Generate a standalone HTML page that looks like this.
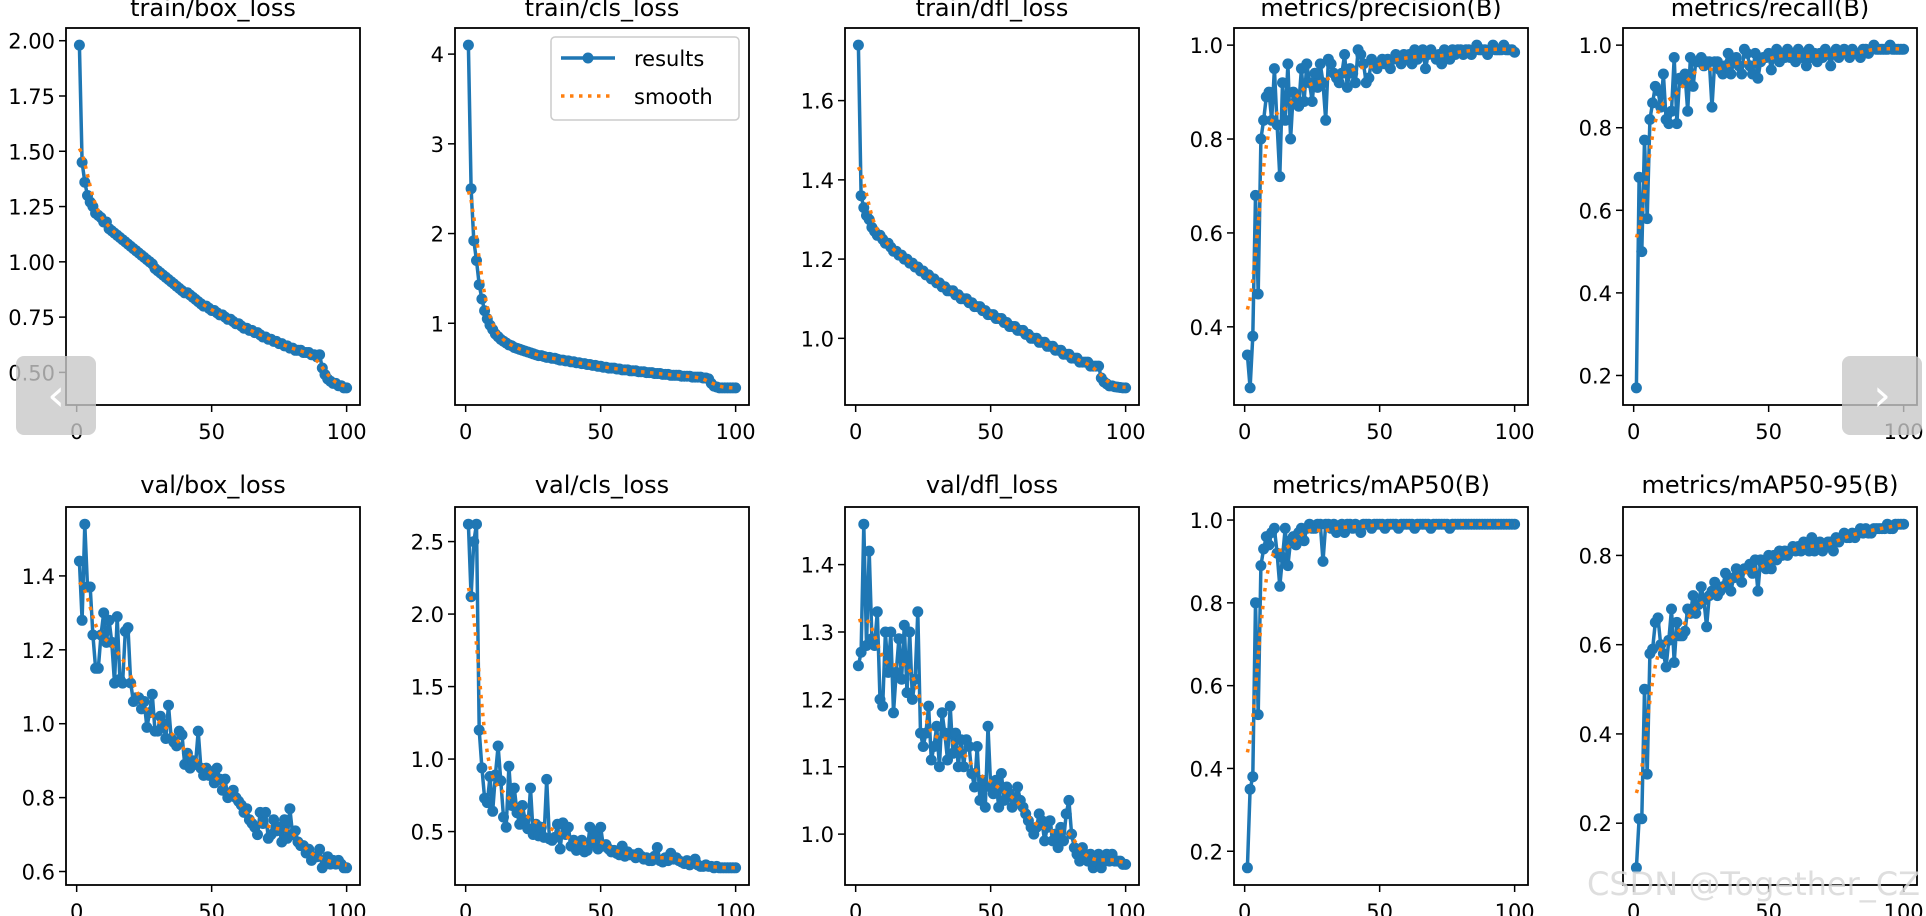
<!DOCTYPE html>
<html><head><meta charset="utf-8"><style>
html,body{margin:0;padding:0;background:#fff;}
svg{display:block;font-family:"DejaVu Sans","Liberation Sans",sans-serif;}
</style></head><body>
<svg id="fig" width="1926" height="916" viewBox="0 0 1926 916" xmlns="http://www.w3.org/2000/svg"></svg>
<script>
const epochs = Array.from({length:100},(_,i)=>i+1);
const titles = ["train/box_loss","train/cls_loss","train/dfl_loss","metrics/precision(B)","metrics/recall(B)","val/box_loss","val/cls_loss","val/dfl_loss","metrics/mAP50(B)","metrics/mAP50-95(B)"];
const trainBox = [1.98,1.45,1.36,1.30,1.27,1.25,1.22,1.21,1.20,1.18,1.18,1.15,1.14,1.13,1.12,1.11,1.10,1.09,1.08,1.07,1.06,1.05,1.04,1.03,1.02,1.01,1.00,0.99,0.97,0.96,0.95,0.94,0.93,0.92,0.91,0.90,0.89,0.88,0.87,0.86,0.86,0.85,0.84,0.83,0.82,0.81,0.80,0.80,0.79,0.78,0.78,0.77,0.76,0.76,0.75,0.74,0.74,0.73,0.72,0.72,0.71,0.70,0.70,0.69,0.69,0.68,0.68,0.67,0.66,0.66,0.65,0.65,0.64,0.64,0.63,0.63,0.62,0.62,0.61,0.61,0.60,0.60,0.60,0.59,0.59,0.59,0.58,0.58,0.57,0.58,0.52,0.49,0.47,0.46,0.45,0.45,0.44,0.44,0.43,0.43];
const trainCls = [4.10,2.50,1.92,1.70,1.43,1.27,1.14,1.05,0.98,0.93,0.88,0.85,0.82,0.80,0.78,0.76,0.75,0.73,0.72,0.71,0.70,0.69,0.68,0.67,0.66,0.65,0.64,0.64,0.63,0.62,0.62,0.61,0.61,0.60,0.59,0.59,0.58,0.58,0.57,0.57,0.56,0.56,0.55,0.55,0.54,0.54,0.53,0.53,0.52,0.52,0.51,0.51,0.50,0.50,0.50,0.49,0.49,0.48,0.48,0.48,0.47,0.47,0.47,0.46,0.46,0.46,0.45,0.45,0.45,0.44,0.44,0.44,0.43,0.43,0.43,0.42,0.42,0.42,0.42,0.41,0.41,0.41,0.41,0.40,0.40,0.40,0.40,0.39,0.39,0.38,0.33,0.30,0.29,0.28,0.28,0.28,0.28,0.28,0.28,0.28];
const trainDfl = [1.74,1.36,1.33,1.31,1.30,1.28,1.27,1.26,1.26,1.25,1.24,1.24,1.23,1.22,1.22,1.21,1.21,1.20,1.20,1.19,1.19,1.18,1.18,1.17,1.17,1.16,1.16,1.15,1.15,1.14,1.14,1.13,1.13,1.12,1.12,1.12,1.11,1.11,1.10,1.10,1.10,1.09,1.09,1.08,1.08,1.08,1.07,1.07,1.06,1.06,1.06,1.05,1.05,1.05,1.04,1.04,1.03,1.03,1.03,1.02,1.02,1.02,1.01,1.01,1.00,1.00,1.00,0.99,0.99,0.99,0.98,0.98,0.98,0.97,0.97,0.97,0.96,0.96,0.96,0.95,0.95,0.95,0.94,0.94,0.94,0.94,0.93,0.93,0.93,0.93,0.90,0.89,0.885,0.88,0.88,0.878,0.877,0.876,0.875,0.875];
const precision = [0.34,0.27,0.38,0.68,0.47,0.80,0.84,0.89,0.90,0.84,0.95,0.83,0.72,0.92,0.84,0.96,0.80,0.90,0.88,0.87,0.95,0.88,0.96,0.92,0.88,0.94,0.91,0.96,0.92,0.84,0.97,0.96,0.94,0.93,0.92,0.94,0.98,0.91,0.95,0.94,0.92,0.99,0.98,0.96,0.92,0.93,0.97,0.96,0.95,0.96,0.97,0.96,0.97,0.95,0.97,0.98,0.97,0.96,0.98,0.97,0.98,0.96,0.99,0.97,0.98,0.99,0.95,0.98,0.99,0.98,0.97,0.98,0.96,0.99,0.98,0.97,0.99,0.98,0.99,0.99,0.98,0.99,0.99,0.98,0.99,1.00,0.99,0.99,0.99,0.98,0.99,1.00,0.99,0.99,0.99,1.00,0.99,0.99,0.99,0.985];
const recall = [0.17,0.68,0.50,0.77,0.58,0.82,0.86,0.90,0.89,0.85,0.93,0.82,0.81,0.84,0.97,0.81,0.92,0.91,0.93,0.84,0.97,0.90,0.96,0.96,0.97,0.95,0.96,0.96,0.85,0.96,0.96,0.94,0.93,0.95,0.98,0.93,0.96,0.97,0.95,0.93,0.99,0.98,0.95,0.93,0.98,0.92,0.96,0.97,0.97,0.98,0.94,0.98,0.99,0.96,0.98,0.97,0.99,0.97,0.98,0.96,0.99,0.97,0.98,0.95,0.99,0.97,0.98,0.96,0.98,0.97,0.99,0.98,0.95,0.98,0.99,0.97,0.98,0.99,0.98,0.97,0.99,0.98,0.98,0.97,0.99,0.99,0.98,0.99,1.00,0.99,0.99,0.99,0.99,0.99,1.00,0.99,0.99,0.99,0.99,0.99];
const valBox = [1.44,1.28,1.54,1.37,1.37,1.24,1.15,1.15,1.24,1.30,1.22,1.28,1.22,1.11,1.29,1.12,1.11,1.25,1.26,1.11,1.06,1.07,1.07,1.04,1.06,0.99,1.03,1.08,0.98,0.98,1.02,1.00,0.96,1.05,0.96,0.95,0.94,0.98,0.97,0.89,0.92,0.88,0.90,0.89,0.98,0.88,0.86,0.88,0.86,0.87,0.84,0.88,0.85,0.82,0.85,0.80,0.81,0.82,0.80,0.79,0.78,0.76,0.77,0.74,0.73,0.72,0.70,0.76,0.73,0.76,0.69,0.70,0.74,0.71,0.72,0.68,0.74,0.69,0.77,0.70,0.71,0.68,0.67,0.67,0.65,0.66,0.63,0.64,0.64,0.66,0.61,0.63,0.64,0.62,0.63,0.62,0.63,0.62,0.61,0.61];
const valCls = [2.62,2.12,2.50,2.62,1.20,0.94,0.73,0.70,0.88,0.64,0.89,1.09,0.85,0.60,0.53,0.95,0.68,0.80,0.63,0.55,0.68,0.58,0.52,0.80,0.48,0.55,0.47,0.53,0.46,0.86,0.45,0.44,0.46,0.55,0.38,0.56,0.48,0.53,0.40,0.44,0.37,0.38,0.44,0.36,0.37,0.53,0.42,0.50,0.38,0.53,0.40,0.41,0.38,0.36,0.37,0.35,0.34,0.40,0.33,0.36,0.34,0.34,0.32,0.35,0.33,0.31,0.32,0.30,0.30,0.33,0.39,0.30,0.29,0.32,0.30,0.35,0.31,0.32,0.30,0.29,0.28,0.30,0.27,0.29,0.31,0.27,0.26,0.26,0.27,0.26,0.26,0.25,0.26,0.25,0.25,0.25,0.25,0.25,0.25,0.25];
const valDfl = [1.25,1.27,1.46,1.28,1.42,1.29,1.28,1.33,1.20,1.19,1.30,1.24,1.30,1.18,1.24,1.29,1.23,1.31,1.21,1.30,1.20,1.23,1.33,1.15,1.13,1.15,1.19,1.11,1.13,1.16,1.10,1.18,1.15,1.11,1.19,1.12,1.15,1.10,1.14,1.10,1.14,1.13,1.09,1.07,1.13,1.05,1.08,1.04,1.16,1.07,1.06,1.08,1.04,1.09,1.05,1.07,1.06,1.04,1.05,1.07,1.05,1.04,1.03,1.02,1.01,1.00,1.01,1.03,1.02,0.99,1.01,1.02,0.99,1.00,0.98,1.01,0.99,1.03,1.05,1.00,0.98,0.97,0.96,0.98,0.97,0.96,0.97,0.95,0.96,0.97,0.95,0.96,0.97,0.96,0.97,0.96,0.96,0.96,0.955,0.955];
const map50 = [0.16,0.35,0.38,0.80,0.53,0.89,0.93,0.96,0.94,0.97,0.98,0.92,0.84,0.91,0.98,0.89,0.95,0.96,0.94,0.97,0.98,0.95,0.98,0.99,0.98,0.98,0.99,0.99,0.90,0.99,0.99,0.98,0.99,0.97,0.98,0.99,0.97,0.99,0.99,0.98,0.99,0.98,0.97,0.99,0.99,0.99,0.98,0.99,0.99,0.99,0.99,0.98,0.99,0.99,0.99,0.99,0.98,0.99,0.99,0.99,0.99,0.99,0.98,0.99,0.99,0.99,0.99,0.99,0.98,0.99,0.99,0.99,0.99,0.99,0.99,0.98,0.99,0.99,0.99,0.99,0.99,0.99,0.99,0.99,0.99,0.99,0.99,0.99,0.99,0.99,0.99,0.99,0.99,0.99,0.99,0.99,0.99,0.99,0.99,0.99];
const map5095 = [0.10,0.21,0.21,0.50,0.31,0.58,0.59,0.65,0.66,0.60,0.58,0.55,0.61,0.68,0.56,0.65,0.62,0.62,0.63,0.68,0.67,0.71,0.67,0.69,0.73,0.70,0.64,0.71,0.72,0.74,0.71,0.72,0.73,0.76,0.74,0.72,0.75,0.77,0.75,0.74,0.77,0.77,0.78,0.76,0.79,0.72,0.79,0.78,0.77,0.80,0.77,0.80,0.79,0.81,0.80,0.81,0.80,0.81,0.82,0.81,0.82,0.81,0.83,0.82,0.81,0.84,0.81,0.82,0.83,0.81,0.82,0.83,0.83,0.81,0.84,0.83,0.84,0.85,0.84,0.84,0.85,0.84,0.85,0.86,0.85,0.86,0.85,0.85,0.86,0.86,0.86,0.86,0.86,0.87,0.86,0.86,0.87,0.87,0.87,0.87];
const yTicks0 = [0.50,0.75,1.00,1.25,1.50,1.75,2.00];
const yTicks1 = [1,2,3,4];
const yTicks2 = [1.0,1.2,1.4,1.6];
const yTicks3 = [0.4,0.6,0.8,1.0];
const yTicks4 = [0.2,0.4,0.6,0.8,1.0];
const yTicks5 = [0.6,0.8,1.0,1.2,1.4];
const yTicks6 = [0.5,1.0,1.5,2.0,2.5];
const yTicks7 = [1.0,1.1,1.2,1.3,1.4];
const yTicks8 = [0.2,0.4,0.6,0.8,1.0];
const yTicks9 = [0.2,0.4,0.6,0.8];
const xTicks = [0,50,100];

const series=[trainBox,trainCls,trainDfl,precision,recall,valBox,valCls,valDfl,map50,map5095];
const yTicksAll=[yTicks0,yTicks1,yTicks2,yTicks3,yTicks4,yTicks5,yTicks6,yTicks7,yTicks8,yTicks9];
const yDec=[2,0,1,1,1,1,1,1,1,1];
const NS="http://www.w3.org/2000/svg";
const svg=document.getElementById('fig');
function mk(tag,attrs,parent){const e=document.createElementNS(NS,tag);for(const k in attrs)e.setAttribute(k,attrs[k]);(parent||svg).appendChild(e);return e;}
function gauss(y,s){const r=Math.ceil(4*s),n=y.length,w=[];let sum=0;for(let k=-r;k<=r;k++){const v=Math.exp(-k*k/(2*s*s));w.push(v);sum+=v;}
 return y.map((_,i)=>{let a=0;for(let k=-r;k<=r;k++){let j=i+k;while(j<0||j>=n){if(j<0)j=-j-1;if(j>=n)j=2*n-j-1;}a+=w[k+r]*y[j];}return a/sum;});}
const colX=[66,455,845,1234,1623], W=294;
const rowY=[[28,405],[507,885]];
for(let p=0;p<10;p++){
 const data=series[p], r=Math.floor(p/5), c=p%5;
 const L=colX[c], R=L+W, T=rowY[r][0], B=rowY[r][1];
 const g=mk('g',{});
 
 
 let mn=Math.min(...data), mx=Math.max(...data), m=(mx-mn)*0.05; const y0=mn-m, y1=mx+m;
 const x0=1-99*0.05, x1=100+99*0.05;
 const sx=v=>L+(v-x0)/(x1-x0)*W, sy=v=>B-(v-y0)/(y1-y0)*(B-T);
 // title
 const t=mk('text',{x:(L+R)/2,y:r?T-14:T-12,'text-anchor':'middle','font-size':24,fill:'#000'},g);t.textContent=titles[p];
 
 
 // lines
 const sm=gauss(data,3);
 const pts=data.map((v,i)=>sx(epochs[i]).toFixed(1)+','+sy(v).toFixed(1)).join(' ');
 const line=mk('polyline',{points:pts,fill:'none',stroke:'#1f77b4','stroke-width':3.5,'stroke-linejoin':'round'},g);
 
 
 data.forEach((v,i)=>{const d=mk('circle',{cx:sx(epochs[i]).toFixed(1),cy:sy(v).toFixed(1),r:5.5,fill:'#1f77b4'},g);
  
  });
 const spts=sm.map((v,i)=>sx(epochs[i]).toFixed(1)+','+sy(v).toFixed(1)).join(' ');
 const sl=mk('polyline',{points:spts,fill:'none',stroke:'#ff7f0e','stroke-width':3.5,'stroke-dasharray':'3.5,5.5'},g);
 
 
 // frame
 const f=mk('rect',{x:L,y:T,width:W,height:B-T,fill:'none',stroke:'#000','stroke-width':1.8},g);
 
 
 xTicks.forEach(v=>{const x=sx(v);mk('line',{x1:x,x2:x,y1:B,y2:B+7,stroke:'#000','stroke-width':1.5},g);
  const tl=mk('text',{x:x,y:B+34,'text-anchor':'middle','font-size':21,fill:'#000'},g);tl.textContent=v;
  
  });
 yTicksAll[p].forEach(v=>{const y=sy(v);mk('line',{x1:L-7,x2:L,y1:y,y2:y,stroke:'#000','stroke-width':1.5},g);
  const tl=mk('text',{x:L-11,y:y+8,'text-anchor':'end','font-size':21,fill:'#000'},g);tl.textContent=v.toFixed(yDec[p]);
  
  });
 if(p===1){
  const lg=mk('g',{},g);
  
  
  mk('rect',{x:551,y:37,width:188,height:83,rx:4,fill:'#fff','fill-opacity':0.8,stroke:'#ccc','stroke-width':1.5},lg);
  mk('line',{x1:561,x2:615,y1:58,y2:58,stroke:'#1f77b4','stroke-width':3.5},lg);
  mk('circle',{cx:588,cy:58,r:5.5,fill:'#1f77b4'},lg);
  const a=mk('text',{x:634,y:66,'font-size':21,fill:'#000'},lg);a.textContent='results';
  
  
  mk('line',{x1:561,x2:615,y1:96,y2:96,stroke:'#ff7f0e','stroke-width':3.5,'stroke-dasharray':'3.5,5.5'},lg);
  const b=mk('text',{x:634,y:104,'font-size':21,fill:'#000'},lg);b.textContent='smooth';
  
  
 }
}
// carousel arrows
[[16,'‹','prev-arrow-button'],[1842,'›','next-arrow-button']].forEach(([x,ch,nm])=>{
 const g=mk('g',{});
 
 
 mk('rect',{x:x,y:356,width:80,height:79,rx:8,fill:'#c8c8c8','fill-opacity':0.8},g);
 const t=mk('text',{x:x+40,y:410,'text-anchor':'middle','font-size':44,fill:'#fff'},g);t.textContent=ch;
});
const wm=mk('text',{x:1920,y:895,'text-anchor':'end','font-size':32,fill:'#d8d8d8','fill-opacity':0.85});
wm.textContent='CSDN @Together_CZ';


</script>
</body></html>
